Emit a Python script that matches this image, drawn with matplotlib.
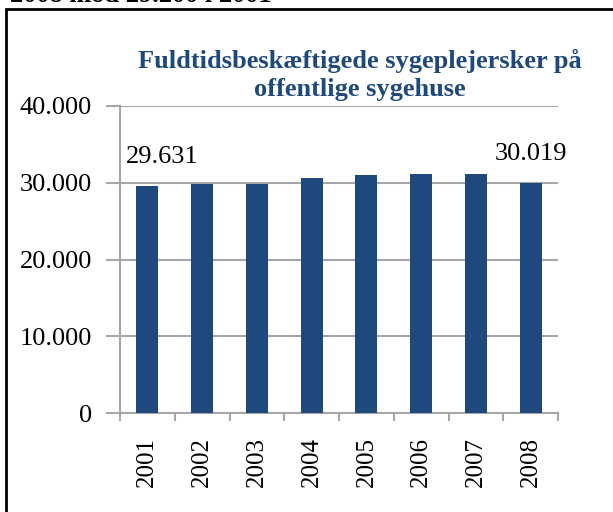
import matplotlib
matplotlib.use('Agg')
import matplotlib.pyplot as plt
from matplotlib.patches import Rectangle

years = ['2001', '2002', '2003', '2004', '2005', '2006', '2007', '2008']
nurses = [29631, 29800, 29850, 30580, 31000, 31180, 31100, 30019]
title = 'Fuldtidsbeskæftigede sygeplejersker på\noffentlige sygehuse'
blue = '#1F497D'
grey = '#A6A6A6'

plt.rcParams['font.family'] = ['Liberation Serif', 'DejaVu Serif']

fig = plt.figure(figsize=(6.13, 5.12), dpi=100)

# cut-off text from the page above the chart
fig.text(10 / 613, 1 - 2 / 512, '2008 mod 29.200 i 2001', fontsize=19,
         fontweight='bold', ha='left', va='baseline')

# chart border
fig.patches.append(Rectangle((6 / 613, -0.1), 1.2, 1.1 - 9 / 512,
                             transform=fig.transFigure, fill=False,
                             edgecolor='black', linewidth=2))

ax = fig.add_axes([120 / 613, 99 / 512, 438 / 613, 307 / 512])
x = list(range(len(years)))
ax.bar(x, nurses, width=0.4, color=blue, zorder=3)

ax.set_ylim(0, 40000)
ax.set_xlim(-0.5, len(years) - 0.5)
ax.set_yticks([0, 10000, 20000, 30000, 40000])
ax.set_yticklabels(['0', '10.000', '20.000', '30.000', '40.000'], fontsize=19)
ax.yaxis.grid(True, color=grey, linewidth=1.5, zorder=0)

ax.set_xticks(x)
ax.set_xticklabels(years, rotation=90, fontsize=18)
ax.set_xticks([i - 0.5 for i in range(len(years) + 1)], minor=True)
ax.tick_params(axis='x', which='major', length=0, pad=17)
ax.tick_params(axis='x', which='minor', length=6, color=grey, width=1.5)
ax.tick_params(axis='y', length=10, color=grey, width=1.5, pad=10)

for s in ['top', 'right']:
    ax.spines[s].set_visible(False)
for s in ['left', 'bottom']:
    ax.spines[s].set_color(grey)
    ax.spines[s].set_linewidth(1.5)

# data labels for first and last year
ax.annotate('29.631', (0, nurses[0]), xytext=(11, 13), textcoords='offset points',
            ha='center', va='bottom', fontsize=19)
ax.annotate('30.019', (7, nurses[7]), xytext=(0, 13), textcoords='offset points',
            ha='center', va='bottom', fontsize=19)

fig.text(360 / 613, 1 - 75 / 512, title, fontsize=19, fontweight='bold',
         color=blue, ha='center', va='center', linespacing=1.3)

fig.savefig('out.png', dpi=100)
